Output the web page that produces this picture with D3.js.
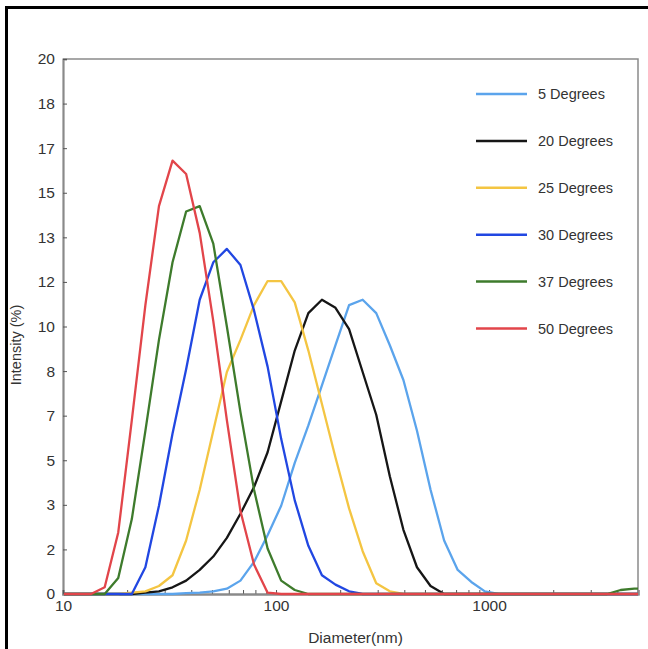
<!DOCTYPE html>
<html>
<head>
<meta charset="utf-8">
<script src="https://cdn.jsdelivr.net/npm/d3@7"></script>
<style>
    body { margin: 0; background: #fff; }
    text { font-family: "Liberation Sans", Arial, sans-serif; }
</style>
</head>
<body>
<div id="chart"></div>
<script>
//bin diameters (nm), log spaced like the instrument output
var diameters = [10.1, 11.7, 13.54, 15.69, 18.17, 21.04, 24.36, 28.21, 32.67, 37.84, 43.82, 50.75,
    58.77, 68.06, 78.82, 91.28, 105.7, 122.4, 141.8, 164.2, 190.1, 220.2, 255.0, 295.3, 342.0,
    396.1, 458.7, 531.2, 615.1, 712.4, 825.0, 955.4, 1106, 1281, 1484, 1718, 1990, 2305, 2669,
    3091, 3580, 4145, 4801, 5560];

var seriesNames = ['5 Degrees', '20 Degrees', '25 Degrees', '30 Degrees', '37 Degrees', '50 Degrees'];
var seriesColors = ['#5ba4ec', '#161616', '#f4c542', '#2147e2', '#3e7b2c', '#e2454a'];

//intensity (%) per bin, one array per temperature
var deg5 = [0, 0, 0, 0, 0, 0, 0, 0, 0, 0.03, 0.05, 0.1,
    0.2, 0.5, 1.2, 2.2, 3.3, 4.9, 6.3, 7.8, 9.3, 10.8, 11.0, 10.5, 9.3,
    8.0, 6.1, 3.9, 2.0, 0.9, 0.45, 0.1, 0, 0, 0, 0, 0, 0, 0,
    0, 0, 0, 0, 0];
var deg20 = [0, 0, 0, 0, 0, 0, 0.05, 0.1, 0.25, 0.5, 0.9, 1.4,
    2.1, 3.0, 4.0, 5.3, 7.2, 9.1, 10.5, 11.0, 10.7, 9.9, 8.3, 6.7, 4.4,
    2.4, 1.0, 0.3, 0, 0, 0, 0, 0, 0, 0, 0, 0, 0, 0,
    0, 0, 0, 0, 0];
var deg25 = [0, 0, 0, 0, 0, 0.05, 0.1, 0.3, 0.7, 2.0, 3.9, 6.1,
    8.3, 9.5, 10.8, 11.7, 11.7, 10.9, 9.1, 7.1, 5.1, 3.2, 1.6, 0.4, 0.1,
    0, 0, 0, 0, 0, 0, 0, 0, 0, 0, 0, 0, 0, 0,
    0, 0, 0, 0, 0];
var deg30 = [0, 0, 0, 0, 0, 0, 1.0, 3.3, 6.0, 8.4, 11.0, 12.4,
    12.9, 12.3, 10.6, 8.5, 5.8, 3.5, 1.8, 0.7, 0.35, 0.1, 0, 0, 0,
    0, 0, 0, 0, 0, 0, 0, 0, 0, 0, 0, 0, 0, 0,
    0, 0, 0, 0, 0];
var deg37 = [0, 0, 0, 0, 0.6, 2.8, 6.1, 9.5, 12.4, 14.3, 14.5, 13.1,
    10.0, 6.8, 3.9, 1.7, 0.5, 0.15, 0, 0, 0, 0, 0, 0, 0,
    0, 0, 0, 0, 0, 0, 0, 0, 0, 0, 0, 0, 0, 0,
    0, 0, 0.15, 0.2, 0.2];
var deg50 = [0, 0, 0, 0.25, 2.3, 6.5, 10.8, 14.5, 16.2, 15.7, 13.5, 10.2,
    6.5, 3.1, 1.1, 0.05, 0, 0, 0, 0, 0, 0, 0, 0, 0,
    0, 0, 0, 0, 0, 0, 0, 0, 0, 0, 0, 0, 0, 0,
    0, 0, 0, 0, 0];
var seriesValues = [deg5, deg20, deg25, deg30, deg37, deg50];

//y ticks are twelfths of 20, printed rounded
var yTicks = d3.range(0, 13).map(function (i) { return i * 20 / 12; });
var xMajor = [10, 100, 1000];
var xMinor = [20, 30, 40, 50, 60, 70, 80, 90, 200, 300, 400, 500, 600, 700, 800, 900, 2000, 3000, 4000];

var width = 648, height = 649;
var plotLeft = 63, plotRight = 638, plotTop = 59, plotBottom = 594;

var svg = d3.select('#chart').append('svg')
    .attr('width', width)
    .attr('height', height);

//outer black frame (only top and left edges fall inside the picture)
svg.append('path')
    .attr('d', 'M6.5,' + height + 'V7.5H' + width)
    .attr('fill', 'none')
    .attr('stroke', '#000')
    .attr('stroke-width', 3);

var x = d3.scaleLog().domain([10, 5000]).range([plotLeft, plotRight]);
var y = d3.scaleLinear().domain([0, 20]).range([plotBottom, plotTop]);

svg.append('defs').append('clipPath')
    .attr('id', 'plotClip')
    .append('rect')
    .attr('x', plotLeft).attr('y', plotTop - 5)
    .attr('width', plotRight - plotLeft).attr('height', plotBottom - plotTop + 10);

//plot border: top and right thin grey lines
svg.append('path')
    .attr('d', 'M' + plotLeft + ',' + plotTop + 'H' + plotRight + 'V' + plotBottom)
    .attr('fill', 'none')
    .attr('stroke', '#8a8a8a')
    .attr('stroke-width', 1.5);

//y axis with inward ticks
var yAxis = svg.append('g')
    .attr('transform', 'translate(' + plotLeft + ',0)')
    .call(d3.axisLeft(y)
        .tickValues(yTicks)
        .tickFormat(d3.format('.0f'))
        .tickSize(-4)
        .tickPadding(8));

//x axis: minor ticks without labels, majors labelled
var xAxisMinor = svg.append('g')
    .attr('transform', 'translate(0,' + plotBottom + ')')
    .call(d3.axisBottom(x)
        .tickValues(xMinor)
        .tickFormat('')
        .tickSize(-4));

var xAxis = svg.append('g')
    .attr('transform', 'translate(0,' + plotBottom + ')')
    .call(d3.axisBottom(x)
        .tickValues(xMajor)
        .tickFormat(d3.format('d'))
        .tickSize(-4)
        .tickPadding(6));

[yAxis, xAxis, xAxisMinor].forEach(function (g) {
    g.select('.domain')
        .attr('stroke', '#8a8a8a')
        .attr('stroke-width', 2.2);
    g.selectAll('.tick line')
        .attr('stroke', '#555')
        .attr('stroke-width', 1);
    g.selectAll('.tick text')
        .attr('fill', '#333')
        .style('font-size', '15.5px');
});

//data lines
var line = d3.line()
    .x(function (d) { return x(d[0]); })
    .y(function (d) { return y(d[1]); });

svg.append('g')
    .attr('class', 'lines')
    .attr('clip-path', 'url(#plotClip)')
    .selectAll('path')
    .data(seriesValues)
    .enter()
    .append('path')
    .attr('d', function (vals) {
        return line(vals.map(function (v, i) { return [diameters[i], v]; }));
    })
    .attr('fill', 'none')
    .attr('stroke', function (d, i) { return seriesColors[i]; })
    .attr('stroke-width', 2.3)
    .attr('stroke-linejoin', 'round');

//legend
var legend = svg.append('g')
    .attr('class', 'legend')
    .selectAll('g')
    .data(seriesNames)
    .enter()
    .append('g')
    .attr('transform', function (d, i) {
        return 'translate(476,' + (94 + i * 46.9) + ')';
    });

legend.append('line')
    .attr('x1', 0).attr('x2', 51)
    .attr('stroke', function (d, i) { return seriesColors[i]; })
    .attr('stroke-width', 2.5);

legend.append('text')
    .attr('x', 62)
    .attr('dy', '0.35em')
    .attr('fill', '#333')
    .style('font-size', '14.5px')
    .text(function (d) { return d; });

//axis titles
svg.append('text')
    .attr('x', (plotLeft + plotRight) / 2 + 5)
    .attr('y', 643)
    .attr('text-anchor', 'middle')
    .attr('fill', '#333')
    .style('font-size', '15.5px')
    .text('Diameter(nm)');

svg.append('text')
    .attr('transform', 'translate(21,345) rotate(-90)')
    .attr('text-anchor', 'middle')
    .attr('fill', '#333')
    .style('font-size', '14.5px')
    .text('Intensity (%)');
</script>
</body>
</html>
